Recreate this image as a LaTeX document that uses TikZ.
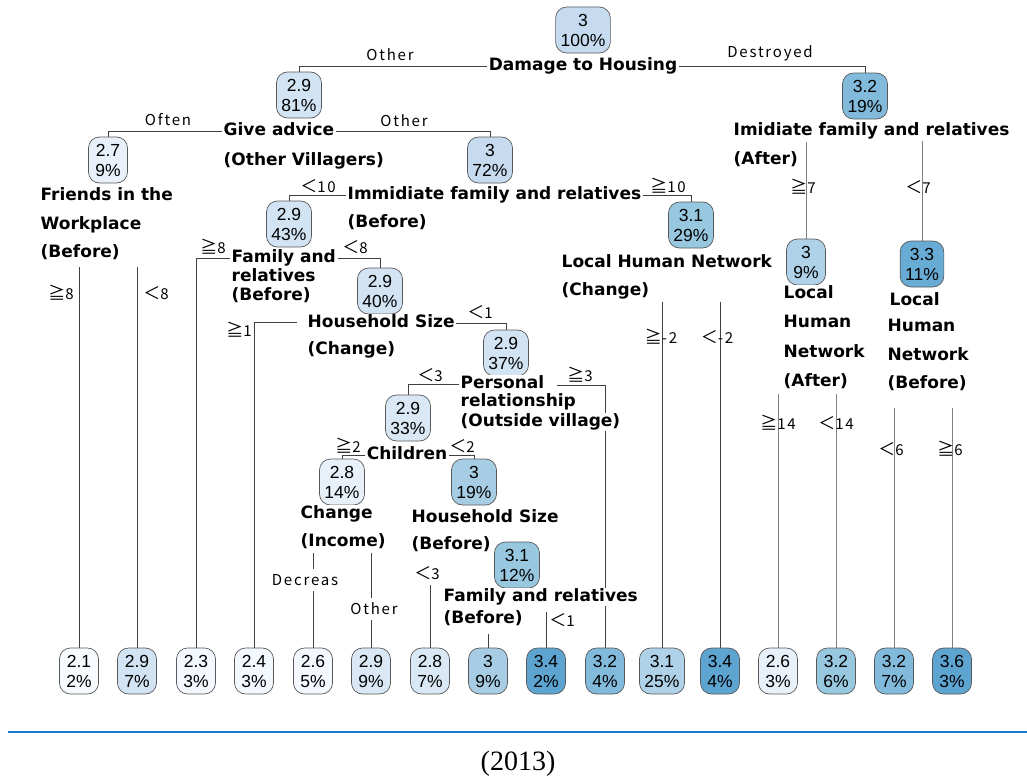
\documentclass[tikz,border=0pt]{standalone}
\usepackage{fontspec}
\setmainfont{DejaVu Sans}
\newfontfamily\lblfont{DejaVu Sans}
\newfontfamily\numfont{Liberation Sans}
\newfontfamily\splitfont[LetterSpace=12]{Noto Sans CJK JP}
\newfontfamily\capfont{Liberation Serif}
\usetikzlibrary{backgrounds}

% fill colours of the boxes, light (low value) to dark (high value)
\definecolor{vA}{HTML}{F7FBFF}
\definecolor{vB}{HTML}{F3F8FE}
\definecolor{vC}{HTML}{E8F1FA}
\definecolor{vD}{HTML}{DAE8F5}
\definecolor{vE}{HTML}{D2E3F3}
\definecolor{vF}{HTML}{C6DBEF}
\definecolor{vG}{HTML}{B0D2E8}
\definecolor{vH}{HTML}{A6CDE4}
\definecolor{vI}{HTML}{98C7E0}
\definecolor{vJ}{HTML}{82BADB}
\definecolor{vK}{HTML}{68ABD5}
\definecolor{vL}{HTML}{5DA4D1}
\definecolor{rulecol}{RGB}{24,122,210}

\newcommand{\bigsym}[1]{{\fontsize{17}{18}\selectfont #1}}

\begin{document}
\begin{tikzpicture}[x=1pt,y=-1pt,
  box/.style={draw=black!65, line width=0.7pt, rounded corners=11pt, fill=#1, align=center,
    font=\numfont\fontsize{17.5}{20}\selectfont, minimum width=39pt, minimum height=46pt,
    inner xsep=5pt, inner ysep=2pt},
  lbl/.style={font=\lblfont\bfseries\fontsize{17}{20}\selectfont, fill=white,
    inner xsep=1.5pt, inner ysep=1pt, text height=12.5pt, text depth=3.5pt},
  split/.style={font=\splitfont\fontsize{15}{18}\selectfont, inner sep=1pt},
  gap/.style={split, fill=white, inner ysep=5pt},
  link/.style={draw=black!75, line width=0.7pt},
  linkr/.style={draw=black!50, line width=0.7pt}]
\useasboundingbox (0,0) rectangle (1027,776);

% ---------- inner nodes ----------
\node[box=vF] (root) at (583,30)  {3\\100\%};
\node[box=vE] (n81)  at (299,95)  {2.9\\81\%};
\node[box=vJ] (n19)  at (865,96)  {3.2\\19\%};
\node[box=vC] (n27)  at (108,160) {2.7\\9\%};
\node[box=vF] (n72)  at (490,160) {3\\72\%};
\node[box=vE] (n43)  at (289,224) {2.9\\43\%};
\node[box=vI] (n29)  at (691,225) {3.1\\29\%};
\node[box=vE] (n40)  at (380,291) {2.9\\40\%};
\node[box=vE] (n37)  at (506,353) {2.9\\37\%};
\node[box=vD] (n33)  at (408,418) {2.9\\33\%};
\node[box=vC] (n14)  at (342,482) {2.8\\14\%};
\node[box=vH] (n19b) at (474,482) {3\\19\%};
\node[box=vI] (n12)  at (517,565) {3.1\\12\%};
\node[box=vG] (n9r)  at (806,262) {3\\9\%};
\node[box=vK] (n11r) at (922,264) {3.3\\11\%};

% ---------- leaves ----------
\node[box=vA] (l1)  at (79,671)  {2.1\\2\%};
\node[box=vE] (l2)  at (137,671) {2.9\\7\%};
\node[box=vB] (l3)  at (196,671) {2.3\\3\%};
\node[box=vB] (l4)  at (254,671) {2.4\\3\%};
\node[box=vB] (l5)  at (313,671) {2.6\\5\%};
\node[box=vD] (l6)  at (371,671) {2.9\\9\%};
\node[box=vD] (l7)  at (430,671) {2.8\\7\%};
\node[box=vH] (l8)  at (488,671) {3\\9\%};
\node[box=vL] (l9)  at (546,671) {3.4\\2\%};
\node[box=vJ] (l10) at (605,671) {3.2\\4\%};
\node[box=vG] (l11) at (662,671) {3.1\\25\%};
\node[box=vL] (l12) at (720,671) {3.4\\4\%};
\node[box=vC] (l13) at (778,671) {2.6\\3\%};
\node[box=vI] (l14) at (836,671) {3.2\\6\%};
\node[box=vJ] (l15) at (894,671) {3.2\\7\%};
\node[box=vL] (l16) at (952,671) {3.6\\3\%};

% ---------- split variables ----------
\node[lbl] (dmg) at (583,66) {Damage to Housing};
\node[lbl, anchor=west] (give1) at (222,131) {Give advice};
\node[lbl, anchor=west] (give2) at (222,161) {(Other Villagers)};
\node[lbl, anchor=west] (fr1) at (39,196) {Friends in the};
\node[lbl, anchor=west] (fr2) at (39,225) {Workplace};
\node[lbl, anchor=west] (fr3) at (39,253) {(Before)};
\node[lbl, anchor=west] (imm1) at (346,195) {Immidiate family and relatives};
\node[lbl, anchor=west] (imm2) at (346,223) {(Before)};
\node[lbl, anchor=west] (fam1) at (230,258) {Family and};
\node[lbl, anchor=west] (fam2) at (230,277) {relatives};
\node[lbl, anchor=west] (fam3) at (230,296) {(Before)};
\node[lbl, anchor=west] (hs1) at (306,323) {Household Size};
\node[lbl, anchor=west] (hs2) at (306,350) {(Change)};
\node[lbl, anchor=west] (pr1) at (459,384) {Personal};
\node[lbl, anchor=west] (pr2) at (459,402) {relationship};
\node[lbl, anchor=west] (pr3) at (459,422) {(Outside village)};
\node[lbl] (ch) at (407,455) {Children};
\node[lbl, anchor=west] (ci1) at (299,514) {Change};
\node[lbl, anchor=west] (ci2) at (299,542) {(Income)};
\node[lbl, anchor=west] (hb1) at (410,518) {Household Size};
\node[lbl, anchor=west] (hb2) at (410,545) {(Before)};
\node[lbl, anchor=west] (fb1) at (442,597) {Family and relatives};
\node[lbl, anchor=west] (fb2) at (442,619) {(Before)};
\node[lbl, anchor=west] (lc1) at (560,263) {Local Human Network};
\node[lbl, anchor=west] (lc2) at (560,291) {(Change)};
\node[lbl, anchor=west] (ia1) at (732,131) {Imidiate family and relatives};
\node[lbl, anchor=west] (ia2) at (732,160) {(After)};
\node[lbl, anchor=west] (la1) at (782,294) {Local};
\node[lbl, anchor=west] (la2) at (782,323) {Human};
\node[lbl, anchor=west] (la3) at (782,353) {Network};
\node[lbl, anchor=west] (la4) at (782,382) {(After)};
\node[lbl, anchor=west] (lb1) at (888,301) {Local};
\node[lbl, anchor=west] (lb2) at (886,327) {Human};
\node[lbl, anchor=west] (lb3) at (886,356) {Network};
\node[lbl, anchor=west] (lb4) at (886,384) {(Before)};

% ---------- split values ----------
\node[split] (s1)  at (390,55)  {Other};
\node[split] (s2)  at (770,53)  {Destroyed};
\node[split] (s3)  at (168,120) {Often};
\node[split] (s4)  at (404,121) {Other};
\node[split] (s5)  at (318,186) {\bigsym{＜}10};
\node[split] (s6)  at (668,186) {\bigsym{≧}10};
\node[split] (s7)  at (61,293)  {\bigsym{≧}8};
\node[split] (s8)  at (156,293) {\bigsym{＜}8};
\node[split] (s9)  at (213,247) {\bigsym{≧}8};
\node[split] (s10) at (355,247) {\bigsym{＜}8};
\node[split] (s11) at (239,330) {\bigsym{≧}1};
\node[split] (s12) at (480,312) {\bigsym{＜}1};
\node[split] (s13) at (430,375) {\bigsym{＜}3};
\node[split] (s14) at (580,375) {\bigsym{≧}3};
\node[split] (s15) at (348,446) {\bigsym{≧}2};
\node[split] (s16) at (462,446) {\bigsym{＜}2};
\node[gap]   (s17) at (305,580) {Decreas};
\node[gap]   (s18) at (374,609) {Other};
\node[gap]   (s19) at (427,573) {\bigsym{＜}3};
\node[split] (s20) at (562,620) {\bigsym{＜}1};
\node[split] (s21) at (661,337) {\bigsym{≧}-2};
\node[split] (s22) at (717,337) {\bigsym{＜}-2};
\node[split] (s23) at (803,187) {\bigsym{≧}7};
\node[split] (s24) at (918,187) {\bigsym{＜}7};
\node[split] (s25) at (778,423) {\bigsym{≧}14};
\node[split] (s26) at (836,423) {\bigsym{＜}14};
\node[split] (s27) at (891,449) {\bigsym{＜}6};
\node[split] (s28) at (950,449) {\bigsym{≧}6};

% free upper ends of the vertical drops
\coordinate (d1)  at (79,267);
\coordinate (d2)  at (137,267);
\coordinate (d5)  at (313,553);
\coordinate (d6)  at (371,553);
\coordinate (d7)  at (430,562);
\coordinate (d8)  at (488,634);
\coordinate (d9)  at (546,612);
\coordinate (d10) at (557,385);
\coordinate (d11) at (662,302);
\coordinate (d12) at (720,302);
\coordinate (d13) at (778,394);
\coordinate (d14) at (836,394);
\coordinate (d15) at (894,408);
\coordinate (d16) at (952,408);
\coordinate (dia1) at (806,142);
\coordinate (dia2) at (922,141);
\coordinate (dhs) at (297,322);

% ---------- connectors ----------
\begin{scope}[on background layer]
  \draw[link] (dmg.west) -| (n81.north);
  \draw[link] (dmg.east) -| (n19.north);
  \draw[link] (give1.west) -| (n27.north);
  \draw[link] (give1.east) -| (n72.north);
  \draw[link] (imm1.west) -| (n43.north);
  \draw[link] (imm1.east) -| (n29.north);
  \draw[link] (fam1.west) -| (l3.north);
  \draw[link] (fam1.east) -| (n40.north);
  \draw[link] (dhs) -| (l4.north);
  \draw[link] (hs1.east) -| (n37.north);
  \draw[link] (pr1.west) -| (n33.north);
  \draw[link] (d10) -| (l10.north);
  \draw[link] (ch.west) -| (n14.north);
  \draw[link] (ch.east) -| (n19b.north);
  \draw[link] (d1) -- (l1.north);
  \draw[link] (d2) -- (l2.north);
  \draw[link] (d5) -- (l5.north);
  \draw[link] (d6) -- (l6.north);
  \draw[link] (d7) -- (l7.north);
  \draw[link] (d8) -- (l8.north);
  \draw[link] (d9) -- (l9.north);
  \draw[link] (d11) -- (l11.north);
  \draw[link] (d12) -- (l12.north);
  \draw[linkr] (dia1) -- (n9r.north);
  \draw[linkr] (dia2) -- (n11r.north);
  \draw[linkr] (d13) -- (l13.north);
  \draw[linkr] (d14) -- (l14.north);
  \draw[linkr] (d15) -- (l15.north);
  \draw[linkr] (d16) -- (l16.north);
\end{scope}

% ---------- source line ----------
\coordinate (ra) at (8,732);
\coordinate (rb) at (1027,732);
\draw[rulecol, line width=2pt] (ra) -- (rb);
\node[font=\capfont\fontsize{28}{30}\selectfont, anchor=base, inner sep=0pt] (cap) at (518,770) {(2013)};
\end{tikzpicture}
\end{document}
